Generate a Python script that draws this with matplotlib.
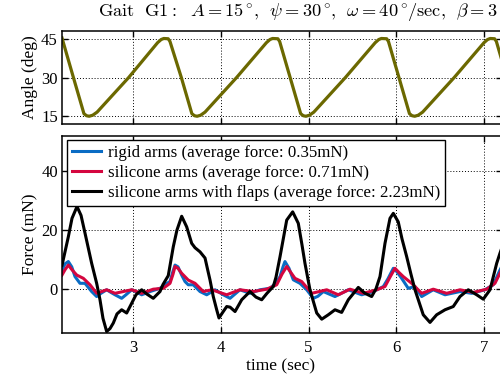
import matplotlib
matplotlib.use("Agg")
import matplotlib.pyplot as plt

plt.rcParams['font.family'] = ['Liberation Serif', 'DejaVu Serif']
plt.rcParams['mathtext.fontset'] = 'cm'

# ---- data ----
angle_t = [2.19, 2.32, 2.44, 2.47, 2.50, 2.54, 2.59, 2.95, 3.28, 3.32, 3.35, 3.40,
           3.42, 3.55, 3.67, 3.70, 3.73, 3.77, 3.82, 4.18, 4.52, 4.56, 4.59, 4.65,
           4.67, 4.79, 4.91, 4.94, 4.97, 5.01, 5.06, 5.42, 5.76, 5.80, 5.83, 5.89,
           5.91, 6.03, 6.15, 6.18, 6.21, 6.25, 6.30, 6.66, 7.00, 7.04, 7.07, 7.12,
           7.14, 7.26, 7.38]
angle_deg = [45.3, 30, 16, 15.2, 15.0, 15.4, 16.6, 30, 43.5, 44.7, 45.1, 45,
             44, 30, 16, 15.2, 15.0, 15.4, 16.6, 30, 43.5, 44.7, 45.1, 45,
             44, 30, 16, 15.2, 15.0, 15.4, 16.6, 30, 43.5, 44.7, 45.1, 45,
             44, 30, 16, 15.2, 15.0, 15.4, 16.6, 30, 43.5, 44.7, 45.1, 45,
             44, 30, 16]

rigid_t = [2.19, 2.224, 2.262, 2.301, 2.338, 2.395, 2.452, 2.528, 2.585, 2.634, 2.699,
           2.748, 2.794, 2.870, 2.919, 2.984, 3.045, 3.098, 3.193, 3.307, 3.364, 3.421,
           3.455, 3.478, 3.512, 3.554, 3.592, 3.629, 3.686, 3.763, 3.839, 3.934, 4.028,
           4.105, 4.218, 4.332, 4.446, 4.560, 4.629, 4.675, 4.709, 4.731, 4.777, 4.826,
           4.902, 4.979, 5.054, 5.107, 5.168, 5.301, 5.453, 5.605, 5.738, 5.852, 5.906,
           5.966, 6.008, 6.061, 6.136, 6.213, 6.289, 6.421, 6.555, 6.726, 6.859, 7.010,
           7.105, 7.181, 7.227]
rigid_f = [6.4, 8.5, 9.3, 7.5, 4.2, 1.9, 1.9, -0.9, -2.6, -1.5, -0.3,
           -1.2, -2.0, -3.2, -2.0, -0.3, -1.2, -2.0, -0.9, 0.2, 1.5, 2.5,
           6.0, 8.1, 7.5, 4.7, 2.5, 1.4, 1.4, -0.9, -2.0, -0.3, -2.0,
           -3.2, -0.3, -1.5, -0.3, 0.2, 2.0, 4.2, 7.5, 9.3, 7.0, 3.1,
           1.9, -0.3, -3.2, -2.5, -0.9, -2.6, -0.3, -2.0, -0.9, 0.8, 3.5,
           7.0, 5.8, 3.6, 0.2, 0.8, -2.6, -0.3, -2.0, -0.9, -1.5, -0.3,
           1.4, 6.4, 9.0]

silicone_t = [2.19, 2.224, 2.262, 2.304, 2.358, 2.433, 2.509, 2.585, 2.699, 2.794, 2.889,
              2.984, 3.098, 3.230, 3.344, 3.421, 3.455, 3.478, 3.512, 3.554, 3.629, 3.706,
              3.800, 3.896, 4.067, 4.218, 4.370, 4.523, 4.637, 4.697, 4.751, 4.788, 4.845,
              4.922, 5.036, 5.207, 5.339, 5.472, 5.624, 5.776, 5.871, 5.928, 5.985, 6.030,
              6.079, 6.175, 6.289, 6.421, 6.574, 6.726, 6.877, 7.030, 7.124, 7.181, 7.227]
silicone_f = [4.7, 6.5, 8.1, 6.5, 4.7, 3.6, 1.4, -1.5, -0.3, -1.5, -0.9,
              -0.3, -1.5, -0.1, 0.2, 1.9, 5.0, 7.6, 7.0, 5.3, 3.0, 1.9,
              -0.9, -0.3, -2.0, -0.3, -0.9, -0.1, 1.4, 5.0, 7.6, 6.0, 3.6,
              2.5, -1.5, -0.3, -2.0, -0.1, -1.5, -0.3, 0.8, 4.0, 7.0, 5.6,
              4.2, 1.9, -1.5, -0.1, -1.5, -0.3, -1.2, -0.1, 1.9, 5.3, 8.0]

flaps_t = [2.19, 2.262, 2.304, 2.361, 2.407, 2.452, 2.528, 2.585, 2.623, 2.657, 2.699,
           2.737, 2.775, 2.817, 2.870, 2.927, 2.984, 3.033, 3.098, 3.159, 3.230, 3.307,
           3.341, 3.401, 3.458, 3.500, 3.554, 3.611, 3.668, 3.706, 3.763, 3.820, 3.854,
           3.877, 3.914, 3.953, 3.979, 4.028, 4.067, 4.105, 4.162, 4.238, 4.332, 4.401,
           4.466, 4.526, 4.598, 4.629, 4.675, 4.751, 4.819, 4.883, 4.925, 4.959, 5.016,
           5.093, 5.150, 5.225, 5.301, 5.377, 5.453, 5.567, 5.643, 5.719, 5.768, 5.814,
           5.871, 5.928, 5.966, 6.022, 6.065, 6.118, 6.167, 6.213, 6.307, 6.384, 6.460,
           6.555, 6.649, 6.726, 6.820, 6.916, 6.991, 7.068, 7.144, 7.181, 7.227]
flaps_f = [8.0, 17.7, 24.0, 28.0, 25.0, 19.0, 8.7, 1.9, -3.7, -10.0, -14.5,
           -13.5, -11.6, -8.5, -7.1, -8.2, -4.9, -2.0, -0.3, -1.8, -3.2, -0.9,
           1.5, 4.5, 14.3, 20.0, 24.7, 21.1, 15.5, 14.0, 12.6, 10.5, 6.0,
           3.0, -2.6, -7.1, -9.9, -7.7, -6.0, -6.2, -7.7, -3.7, -0.9, -2.8,
           -3.7, -1.5, 0.8, 4.0, 11.0, 23.4, 26.2, 22.3, 15.0, 8.7, -0.3,
           -8.2, -10.3, -8.8, -7.1, -8.0, -3.7, 0.5, -1.5, -2.6, 0.0, 4.2,
           15.5, 24.0, 25.7, 22.8, 17.0, 11.0, 5.0, -0.3, -8.8, -11.4, -8.8,
           -7.1, -6.0, -2.6, -0.3, -2.0, -3.5, -0.3, 8.7, 12.1, 16.0]

labels = ["rigid arms (average force: 0.35mN)",
          "silicone arms (average force: 0.71mN)",
          "silicone arms with flaps (average force: 2.23mN)"]
colors = ["#0a6cc4", "#d4063f", "#000000"]
angle_color = "#6b6800"

angle_yticks = [15, 30, 45]
force_yticks = [0, 20, 40]
time_ticks = [3, 4, 5, 6, 7]

# ---- figure ----
W, H = 500, 377
fig = plt.figure(figsize=(5.0, 3.77), dpi=100)

def px_axes(l, t, r, b):
    return fig.add_axes([l / W, 1 - b / H, (r - l) / W, (b - t) / H])

ax1 = px_axes(62, 31, 501.6, 124)
ax2 = px_axes(62, 136, 501.6, 333)

FS = 12
for ax in (ax1, ax2):
    ax.set_xlim(2.19, 7.2)
    ax.set_xticks(time_ticks)
    ax.grid(True, color='black', linestyle=(0, (1, 2)), linewidth=0.7)
    ax.tick_params(direction='in', top=True, right=True, length=4, width=1.0,
                   labelsize=FS, pad=3)
    ax.tick_params(axis='x', pad=5)
    for s in ax.spines.values():
        s.set_linewidth(1.1)

ax1.plot(angle_t, angle_deg, color=angle_color, lw=2.3, solid_joinstyle='round')
ax1.set_ylim(12, 48)
ax1.set_yticks(angle_yticks)
ax1.tick_params(labelbottom=False)
ax1.set_ylabel("Angle (deg)", fontsize=FS + 0.5, labelpad=2)

for t, f, c, lab in zip([rigid_t, silicone_t, flaps_t], [rigid_f, silicone_f, flaps_f],
                        colors, labels):
    ax2.plot(t, f, color=c, lw=2.2, label=lab, solid_joinstyle='round')
ax2.set_ylim(-15, 52)
ax2.set_yticks(force_yticks)
ax2.set_ylabel("Force (mN)", fontsize=FS + 0.5, labelpad=2)

leg = ax2.legend(loc='upper left', bbox_to_anchor=(5 / 439.6, 1 - 4 / 197),
                 borderaxespad=0, fontsize=12.2, handlelength=1.7, handletextpad=0.4,
                 labelspacing=0.22, borderpad=0.3, fancybox=False, framealpha=1)
leg.get_frame().set_edgecolor('black')
leg.get_frame().set_linewidth(1.0)

fig.text(280 / W, 1 - 366 / H, "time (sec)", ha='center', va='center', fontsize=FS + 0.5)

fig.text(498 / W, 1 - 12 / H,
         r"$\mathrm{Gait\ \ G1{:}}\ \ A=15^\circ\!,\ \,\psi=30^\circ\!,\ \,\omega=40^\circ\!/\mathrm{sec},\ \,\beta=3$",
         ha='right', va='center', fontsize=13.2)

fig.savefig("out.png", dpi=100)
